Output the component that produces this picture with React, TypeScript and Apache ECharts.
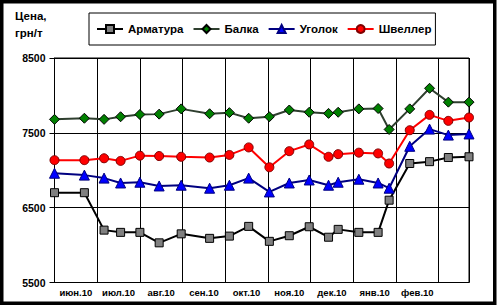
import React, { useEffect, useRef } from "react";
import * as echarts from "echarts";

const DATES = [
  "2010-06-01", "2010-06-22", "2010-07-06", "2010-07-18", "2010-08-01", "2010-08-15",
  "2010-08-31", "2010-09-20", "2010-10-04", "2010-10-18", "2010-11-02", "2010-11-16",
  "2010-11-30", "2010-12-14", "2010-12-21", "2011-01-05", "2011-01-19", "2011-01-27",
  "2011-02-10", "2011-02-23", "2011-03-08", "2011-03-23",
];
const ARMATURA = [6700, 6700, 6200, 6170, 6170, 6030, 6150, 6090, 6120, 6250, 6050, 6125, 6245, 6105, 6210, 6170, 6170, 6600, 7090, 7115, 7170, 7180];
const BALKA = [7680, 7695, 7680, 7715, 7745, 7750, 7820, 7755, 7770, 7695, 7715, 7805, 7775, 7760, 7775, 7820, 7825, 7545, 7820, 8095, 7910, 7910];
const UGOLOK = [6960, 6935, 6895, 6830, 6840, 6790, 6800, 6760, 6800, 6895, 6710, 6830, 6870, 6800, 6840, 6880, 6830, 6760, 7320, 7550, 7470, 7485];
const SHVELLER = [7135, 7135, 7160, 7125, 7195, 7190, 7180, 7170, 7205, 7305, 7040, 7255, 7345, 7180, 7215, 7235, 7225, 7090, 7535, 7740, 7660, 7705];
const MONTHS = ["июн.10", "июл.10", "авг.10", "сен.10", "окт.10", "ноя.10", "дек.10", "янв.10", "фев.10"];
const Y_TICKS = [5500, 6500, 7500, 8500];
const SERIES_NAMES = ["Арматура", "Балка", "Уголок", "Швеллер"];

function monthPos(d: string): number {
  const [y, m, dd] = d.split("-").map(Number);
  const dim = new Date(y, m, 0).getDate();
  return (y - 2010) * 12 + (m - 6) + (dd - 1) / dim;
}

const FONT = "'Liberation Sans', Arial, sans-serif";

export default function App() {
  const ref = useRef<HTMLDivElement>(null);
  useEffect(() => {
    if (!ref.current) return;
    const chart = echarts.init(ref.current, undefined, { renderer: "svg" });
    const xs = DATES.map(monthPos);
    const xMax = xs[xs.length - 1];
    const pair = (vals: number[]) => vals.map((v, i) => [xs[i], v]);
    const option: any = {
      animation: false,
      backgroundColor: "#fff",
      textStyle: { fontFamily: FONT },
      grid: {
        left: 54.5, top: 58, right: 31, bottom: 25.5,
        show: true, borderColor: "#000", borderWidth: 1, backgroundColor: "#fff",
      },
      legend: {
        data: SERIES_NAMES,
        left: 89, top: 13,
        padding: [10, 4, 10, 7],
        borderColor: "#000", borderWidth: 1, backgroundColor: "#fff",
        itemWidth: 26, itemHeight: 10, itemGap: 9,
        textStyle: { fontFamily: FONT, fontWeight: "bold", fontSize: 11.5, color: "#000" },
      },
      xAxis: [
        {
          type: "value", min: 0, max: xMax, interval: 1,
          axisLine: { show: true, lineStyle: { color: "#000", width: 1 } },
          axisTick: { show: false },
          axisLabel: { show: false },
          splitLine: { show: true, lineStyle: { color: "#000", width: 1 } },
        },
        {
          type: "value", min: 0, max: xMax, interval: 0.5, position: "bottom",
          axisLine: { show: false }, axisTick: { show: false }, splitLine: { show: false },
          axisLabel: {
            margin: 5,
            fontFamily: FONT, fontWeight: "bold", fontSize: 9.5, color: "#000",
            formatter: (v: number) => {
              const f = v % 1;
              return Math.abs(f - 0.5) < 1e-6 ? MONTHS[Math.floor(v)] ?? "" : "";
            },
          },
        },
      ],
      yAxis: {
        type: "value", min: 5500, max: 8500, interval: 500,
        axisLine: { show: true, lineStyle: { color: "#000", width: 1 } },
        axisTick: { show: true, length: 5, customValues: Y_TICKS, lineStyle: { color: "#000" } },
        axisLabel: {
          customValues: Y_TICKS,
          formatter: (v: number) => String(v),
          margin: 9, fontFamily: FONT, fontWeight: "bold", fontSize: 10.5, color: "#000",
        },
        splitLine: { show: true, lineStyle: { color: "#000", width: 1 } },
      },
      graphic: [
        {
          type: "text", left: 15, top: 7,
          style: {
            text: "Цена,\nгрн/т", fontFamily: FONT, fontWeight: "bold", fontSize: 11.5,
            fill: "#000", align: "center", lineHeight: 17,
          },
        },
        {
          type: "rect", shape: { x: 1.75, y: 1.75, width: 493, height: 301.5 },
          style: { fill: "none", stroke: "#000", lineWidth: 3.5 }, silent: true, z: 100,
        },
      ],
      series: [
        {
          name: SERIES_NAMES[0], type: "line", data: pair(ARMATURA),
          symbol: "rect", symbolSize: 8,
          lineStyle: { color: "#000", width: 2 },
          itemStyle: { color: "#808080", borderColor: "#000", borderWidth: 1 },
        },
        {
          name: SERIES_NAMES[1], type: "line", data: pair(BALKA),
          symbol: "diamond", symbolSize: 10,
          lineStyle: { color: "#2f3f2f", width: 2 },
          itemStyle: { color: "#008000", borderColor: "#000", borderWidth: 1 },
        },
        {
          name: SERIES_NAMES[2], type: "line", data: pair(UGOLOK),
          symbol: "triangle", symbolSize: 10,
          lineStyle: { color: "#000080", width: 2 },
          itemStyle: { color: "#0000ff", borderColor: "#000080", borderWidth: 1 },
        },
        {
          name: SERIES_NAMES[3], type: "line", data: pair(SHVELLER),
          symbol: "circle", symbolSize: 9,
          lineStyle: { color: "#ff0000", width: 2 },
          itemStyle: { color: "#ff0000", borderColor: "#800000", borderWidth: 1 },
        },
      ],
    };
    chart.setOption(option);
    return () => chart.dispose();
  }, []);
  return (
    <div
      ref={ref}
      style={{ position: "absolute", left: 0, top: 0, width: 500, height: 308, background: "#fff" }}
    />
  );
}
